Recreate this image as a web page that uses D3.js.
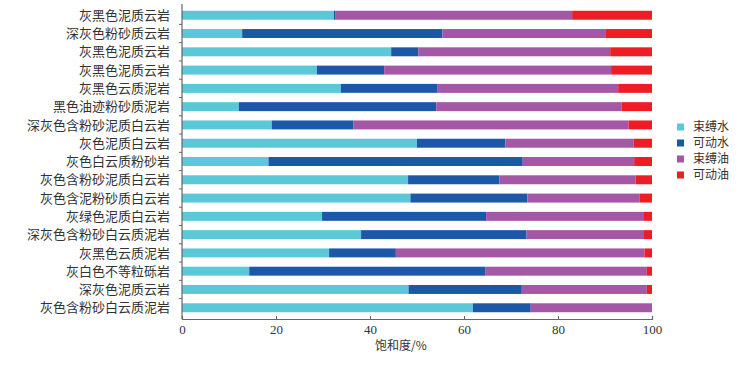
<!DOCTYPE html>
<html>
<head>
<meta charset="utf-8">
<script src="https://cdn.jsdelivr.net/npm/d3@7"></script>
<style>
  body { margin: 0; background: #fff; }
  text { fill: #333; }
</style>
</head>
<body>
<div id="chart"></div>
<script>
// rock types, top to bottom
var categories = ["灰黑色泥质云岩", "深灰色粉砂质云岩", "灰黑色泥质云岩", "灰黑色泥质云岩", "灰黑色云质泥岩",
  "黑色油迹粉砂质泥岩", "深灰色含粉砂泥质白云岩", "灰色泥质白云岩", "灰色白云质粉砂岩", "灰色含粉砂泥质白云岩",
  "灰色含泥粉砂质白云岩", "灰绿色泥质白云岩", "深灰色含粉砂白云质泥岩", "灰黑色云质泥岩", "灰白色不等粒砾岩",
  "深灰色泥质云岩", "灰色含粉砂白云质泥岩"];
var seriesNames = ["束缚水", "可动水", "束缚油", "可动油"];
// saturation, %
var boundWater  = [32.3, 12.8, 44.5, 28.7, 33.8, 12.1, 19.1, 50.0, 18.4, 48.1, 48.6, 29.8, 38.1, 31.3, 14.3, 48.2, 61.9];
var movableWater = [0.4, 42.6, 5.8, 14.3, 20.6, 42.0, 17.4, 18.8, 54.1, 19.4, 24.9, 34.9, 35.2, 14.2, 50.2, 24.1, 12.3];
var boundOil    = [50.3, 34.8, 40.8, 48.3, 38.4, 39.4, 58.5, 27.3, 23.7, 29.0, 23.9, 33.6, 25.0, 52.9, 34.4, 26.6, 25.8];
var movableOil  = [17.0, 9.8, 8.9, 8.7, 7.2, 6.5, 5.0, 3.9, 3.8, 3.5, 2.6, 1.7, 1.7, 1.6, 1.1, 1.1, 0.0];
var xTicks = [0, 20, 40, 60, 80, 100];
var colors = ["#5bc8d8", "#1d58a8", "#a457a4", "#ee1d25"];

var W = 743, H = 365;
var mLeft = 182, mRight = 652, mTop = 4, mBottom = 319;

var rows = categories.map(function(c, i) {
  return { idx: i, name: c, v: [boundWater[i], movableWater[i], boundOil[i], movableOil[i]] };
});

var svg = d3.select("#chart").append("svg")
  .attr("width", W).attr("height", H);

var x = d3.scaleLinear().domain([0, 100]).range([mLeft, mRight]);
var y = d3.scaleBand().domain(d3.range(categories.length)).range([mTop, mBottom])
  .paddingInner(0.51).paddingOuter(0.37);

// bars
var stackData = rows.map(function(r) {
  var o = { idx: r.idx };
  seriesNames.forEach(function(s, k) { o[s] = r.v[k]; });
  return o;
});
var stacked = d3.stack().keys(seriesNames)(stackData);

svg.append("g").selectAll("g")
  .data(stacked)
  .enter().append("g")
  .attr("fill", function(d, k) { return colors[k]; })
  .selectAll("rect")
  .data(function(d) { return d; })
  .enter().append("rect")
  .attr("x", function(d) { return x(d[0]); })
  .attr("y", function(d) { return y(d.data.idx); })
  .attr("width", function(d) { return Math.max(0, x(d[1]) - x(d[0])); })
  .attr("height", y.bandwidth());

// y axis
svg.append("line")
  .attr("x1", mLeft).attr("x2", mLeft).attr("y1", mTop).attr("y2", mBottom)
  .attr("stroke", "#666").attr("stroke-width", 1.2);
svg.append("g").selectAll("line")
  .data(d3.range(1, categories.length))
  .enter().append("line")
  .attr("x1", mLeft - 3).attr("x2", mLeft)
  .attr("y1", function(i) { return y(i) - y.step() * y.paddingInner() / 2; })
  .attr("y2", function(i) { return y(i) - y.step() * y.paddingInner() / 2; })
  .attr("stroke", "#666");
svg.append("g").selectAll("text")
  .data(rows)
  .enter().append("text")
  .attr("x", 170)
  .attr("y", function(d) { return y(d.idx) + y.bandwidth() / 2; })
  .attr("dy", "0.36em")
  .attr("text-anchor", "end")
  .style("font-family", "'Noto Sans CJK SC', sans-serif")
  .style("font-size", "13px")
  .text(function(d) { return d.name; });

// x axis
var xAxis = svg.append("g")
  .attr("transform", "translate(0," + mBottom + ")")
  .call(d3.axisBottom(x).tickValues(xTicks).tickSize(-3).tickPadding(6));
xAxis.select(".domain").attr("stroke", "#666").attr("stroke-width", 1.2);
xAxis.selectAll(".tick line").attr("stroke", "#666");
xAxis.selectAll(".tick text")
  .style("font-family", "'Liberation Serif', serif")
  .style("font-size", "13px")
  .attr("fill", "#333");

svg.append("text")
  .attr("x", 401).attr("y", 350)
  .attr("text-anchor", "middle")
  .style("font-family", "'Noto Sans CJK SC', sans-serif")
  .style("font-size", "12px")
  .text("饱和度/%");

// legend
var legend = svg.append("g").selectAll("g")
  .data(seriesNames)
  .enter().append("g")
  .attr("transform", function(d, k) { return "translate(677," + (127 + k * 16) + ")"; });
legend.append("rect")
  .attr("x", 0).attr("y", -3.5).attr("width", 7).attr("height", 7)
  .attr("fill", function(d, k) { return colors[k]; });
legend.append("text")
  .attr("x", 16).attr("dy", "0.36em")
  .style("font-family", "'Noto Sans CJK SC', sans-serif")
  .style("font-size", "12px")
  .text(function(d) { return d; });
</script>
</body>
</html>
